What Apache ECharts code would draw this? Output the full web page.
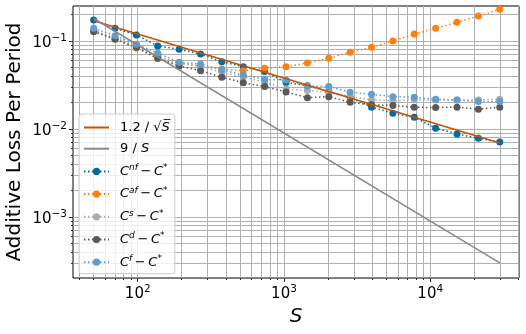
<!DOCTYPE html>
<html><head><meta charset="utf-8">
<script src="https://cdn.jsdelivr.net/npm/echarts@6/dist/echarts.min.js"></script>
<style>html,body{margin:0;padding:0;background:#fff}#c{width:526px;height:334px}</style>
</head><body><div id="c"></div>
<script>
// ---- data ----
const S = [50, 70, 98, 137, 192, 269, 376, 527, 738, 1033, 1446, 2025, 2834, 3968, 5556, 7778, 10889, 15245, 21343, 29880];
const cNf = [0.173, 0.139, 0.117, 0.0878, 0.0805, 0.0711, 0.0582, 0.0511, 0.0449, 0.0338, 0.0310, 0.0266, 0.0228, 0.0177, 0.0151, 0.0136, 0.0102, 0.0088, 0.00787, 0.0071];
const cAf = [0.131, 0.105, 0.083, 0.063, 0.056, 0.052, 0.048, 0.046, 0.049, 0.051, 0.0562, 0.0637, 0.0745, 0.0848, 0.100, 0.120, 0.139, 0.163, 0.192, 0.229];
const cS  = [0.133, 0.108, 0.088, 0.067, 0.056, 0.051, 0.044, 0.039, 0.034, 0.0285, 0.0273, 0.0262, 0.0235, 0.0214, 0.0209, 0.0216, 0.0213, 0.0213, 0.0214, 0.0218];
const cD  = [0.1276, 0.1045, 0.0848, 0.0637, 0.052, 0.046, 0.0387, 0.0336, 0.0303, 0.0264, 0.0227, 0.0233, 0.0201, 0.0188, 0.0185, 0.0177, 0.0175, 0.0177, 0.0168, 0.0177];
const cF  = [0.1394, 0.1148, 0.0918, 0.0725, 0.0573, 0.0548, 0.0469, 0.0411, 0.0367, 0.0360, 0.0308, 0.0303, 0.0262, 0.0248, 0.0233, 0.0230, 0.0218, 0.0214, 0.0205, 0.0205];
const refS = [50, 29880];
const refSqrt = [0.1697, 0.00694];   // 1.2 / sqrt(S) line end points
const refInv = [0.180, 0.000301];    // 9 / S line end points
const xRange = [36.1, 40450];
const yRange = [2.03e-4, 0.2495];
const xMajor = [100, 1000, 10000];
const xMinor = [40, 50, 60, 70, 80, 90, 200, 300, 400, 500, 600, 700, 800, 900,
  2000, 3000, 4000, 5000, 6000, 7000, 8000, 9000, 20000, 30000, 40000];
const yMajor = [0.001, 0.01, 0.1];
const yMinor = [3e-4, 4e-4, 5e-4, 6e-4, 7e-4, 8e-4, 9e-4, 2e-3, 3e-3, 4e-3, 5e-3, 6e-3, 7e-3, 8e-3, 9e-3,
  2e-2, 3e-2, 4e-2, 5e-2, 6e-2, 7e-2, 8e-2, 9e-2, 0.2];

const FF = 'DejaVu Sans';
const lg = v => Math.log10(v);
const GRID = '#b0b0b0';

function decoAxis(pos, range, vals, len, extra) {
  return Object.assign({
    type: 'value', position: pos, min: lg(range[0]), max: lg(range[1]),
    axisLine: { show: false, onZero: false },
    axisTick: { show: true, inside: false, length: len, customValues: vals.map(lg),
      lineStyle: { color: '#000', width: 0.8 } },
    axisLabel: { show: false },
    splitLine: { show: true, lineStyle: { color: GRID, width: 1 } },
    nameMoveOverlap: false
  }, extra || {});
}
const tickRich = {
  b: { fontFamily: FF, fontSize: 15, color: '#000', lineHeight: 21 },
  s: { fontFamily: FF, fontSize: 10.5, color: '#000', lineHeight: 12, verticalAlign: 'top' }
};

const xAxes = [
  { type: 'log', logBase: 10, min: xRange[0], max: xRange[1], show: false },
  decoAxis('bottom', xRange, xMajor, 4, {
    axisLabel: { show: true, customValues: xMajor.map(lg), margin: 6,
      formatter: v => '{b|10}{s|' + Math.round(v) + '}', rich: tickRich },
    name: 'S', nameLocation: 'middle', nameGap: 29,
    nameTextStyle: { fontFamily: FF, fontSize: 20, fontStyle: 'italic', color: '#000' }
  }),
  decoAxis('bottom', xRange, xMinor, 2)
];
const yAxes = [
  { type: 'log', logBase: 10, min: yRange[0], max: yRange[1], show: false },
  decoAxis('left', yRange, yMajor, 4, {
    axisLabel: { show: true, customValues: yMajor.map(lg), margin: 6, padding: [5, 0, 0, 0],
      formatter: v => '{b|10}{s|\u2212' + Math.round(-v) + '}', rich: tickRich },
    name: 'Additive Loss Per Period', nameLocation: 'middle', nameGap: 48,
    nameTextStyle: { fontFamily: FF, fontSize: 20, color: '#000' }
  }),
  decoAxis('left', yRange, yMinor, 2)
];

function errSeries(name, vals, color) {
  return {
    name, type: 'line', xAxisIndex: 0, yAxisIndex: 0,
    data: S.map((s, i) => [s, vals[i]]),
    symbol: 'circle', symbolSize: 7, showSymbol: true,
    lineStyle: { color, width: 1.5, type: [1.5, 2.5] },
    itemStyle: { color, borderWidth: 0 }, z: 2, silent: true
  };
}
function refSeries(name, vals, color) {
  return {
    name, type: 'line', xAxisIndex: 0, yAxisIndex: 0,
    data: refS.map((s, i) => [s, vals[i]]),
    symbol: 'none', showSymbol: false, lineStyle: { color, width: 1.5 }, itemStyle: { color }, z: 3, silent: true
  };
}

const legendText = {
  sqrt: '{w| }{p|1.2 / \u221a}{i|S\u0305}',
  inv: '{w| }{p|9 / }{i|S}',
  nf: '{w| }{i|C}{sup|nf}{n|\u2009\u2212\u2009}{i|C}{sp|*}',
  af: '{w| }{i|C}{sup|af}{n|\u2009\u2212\u2009}{i|C}{sp|*}',
  s: '{w| }{i|C}{sup|s}{n|\u2009\u2212\u2009}{i|C}{sp|*}',
  d: '{w| }{i|C}{sup|d}{n|\u2009\u2212\u2009}{i|C}{sp|*}',
  f: '{w| }{i|C}{sup|f}{n|\u2009\u2212\u2009}{i|C}{sp|*}'
};
const base = { fontFamily: FF, fontSize: 13, color: '#000', lineHeight: 16 };
const legendRich = {
  w: Object.assign({}, base, { width: 6 }),
  p: base,
  n: base,
  i: Object.assign({}, base, { fontStyle: 'italic' }),
  sup: { fontFamily: FF, fontSize: 9, fontStyle: 'italic', color: '#000', lineHeight: 10, verticalAlign: 'top' },
  sp: { fontFamily: FF, fontSize: 9, color: '#000', lineHeight: 10, verticalAlign: 'top' }
};
const noMarker = { color: 'rgba(0,0,0,0)', borderWidth: 0, opacity: 0 };

const chart = echarts.init(document.getElementById('c'), null, { renderer: 'canvas' });
chart.setOption({
  animation: false,
  backgroundColor: '#fff',
  grid: { left: 73, right: 7, top: 6, bottom: 56, show: true, borderColor: '#000', borderWidth: 1,
    backgroundColor: 'transparent', containLabel: false, outerBoundsMode: 'none' },
  xAxis: xAxes,
  yAxis: yAxes,
  legend: {
    orient: 'vertical', left: 79, top: 114,
    itemWidth: 25, itemHeight: 9, itemGap: 8.2,
    padding: [7, 5, 5, 4],
    backgroundColor: 'rgba(255,255,255,0.8)', borderColor: '#cccccc', borderWidth: 1, borderRadius: 3,
    data: [
      { name: 'sqrt', itemStyle: noMarker },
      { name: 'inv', itemStyle: noMarker },
      'nf', 'af', 's', 'd', 'f'
    ],
    formatter: name => legendText[name],
    textStyle: { fontFamily: FF, fontSize: 13, color: '#000', rich: legendRich },
    selectedMode: false
  },
  series: [
    errSeries('nf', cNf, '#006BA4'),
    errSeries('af', cAf, '#FF800E'),
    errSeries('s', cS, '#ABABAB'),
    errSeries('d', cD, '#595959'),
    errSeries('f', cF, '#5F9ED1'),
    refSeries('sqrt', refSqrt, '#C85200'),
    refSeries('inv', refInv, '#898989')
  ]
});
</script></body></html>
